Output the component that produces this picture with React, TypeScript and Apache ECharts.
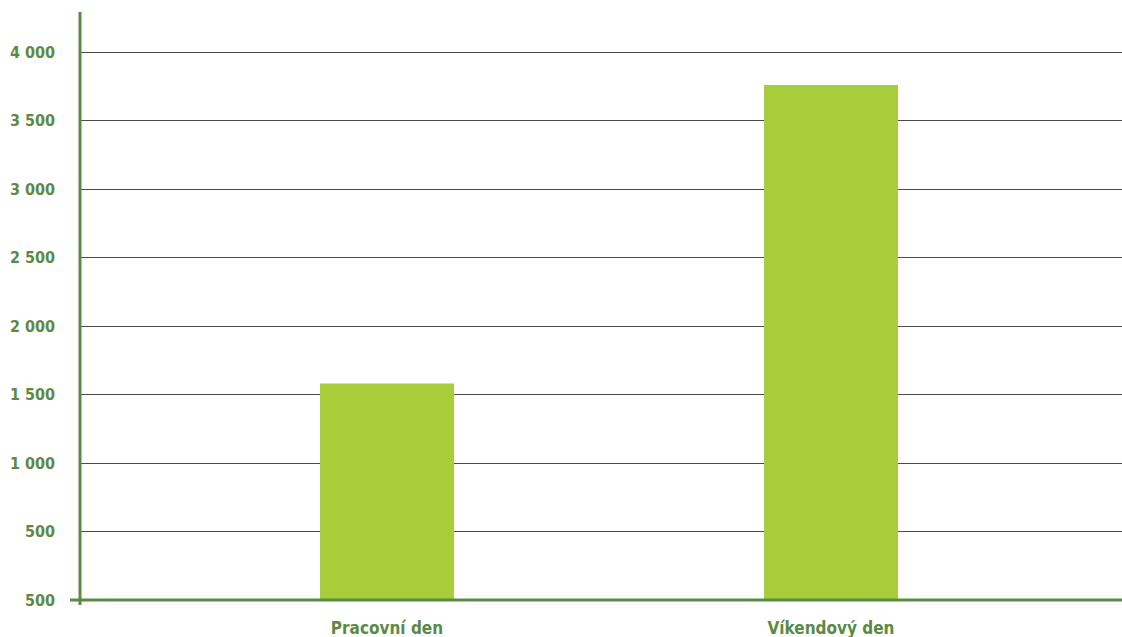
import React, { useEffect, useRef } from "react";
import * as echarts from "echarts";

const categories = ["Pracovní den", "Víkendový den"];
const values = [1580, 3760];
const yMin = 0;
const yMax = 4000;
const yInterval = 500;

const GREEN = "#5b8a45";
const BAR = "#a8cd3a";
const FONT = "'DejaVu Sans Condensed', 'DejaVu Sans', sans-serif";

function fmt(v: number): string {
  if (v === 0) return "500";
  const s = String(v);
  return s.length > 3 ? s.slice(0, s.length - 3) + " " + s.slice(-3) : s;
}

export default function App() {
  const ref = useRef<HTMLDivElement>(null);
  useEffect(() => {
    if (!ref.current) return;
    const chart = echarts.init(ref.current, null, { renderer: "svg" });
    chart.setOption({
      animation: false,
      backgroundColor: "#ffffff",
      grid: [
        { left: 80, right: 0, top: 52, bottom: 37 },
        { left: 165, right: 69, top: 52, bottom: 37 },
      ],
      xAxis: [
        {
          type: "value",
          gridIndex: 0,
          show: true,
          axisLine: { show: false },
          axisTick: { show: false },
          axisLabel: { show: false },
          splitLine: { show: false },
        },
        {
          type: "category",
          gridIndex: 1,
          data: categories,
          axisLine: { show: false },
          axisTick: { show: false },
          axisLabel: {
            color: GREEN,
            fontFamily: FONT,
            fontWeight: "bold",
            fontSize: 17,
            margin: 19,
          },
        },
      ],
      yAxis: [
        {
          type: "value",
          gridIndex: 0,
          min: yMin,
          max: yMax,
          interval: yInterval,
          axisLine: { show: false },
          axisTick: { show: false },
          axisLabel: {
            color: GREEN,
            fontFamily: FONT,
            fontWeight: "bold",
            fontSize: 16,
            margin: 25,
            formatter: (v: number) => fmt(v),
          },
          splitLine: { show: true, lineStyle: { color: "#4a4a4a", width: 1 } },
        },
        {
          type: "value",
          gridIndex: 1,
          min: yMin,
          max: yMax,
          interval: yInterval,
          show: false,
          splitLine: { show: false },
        },
      ],
      series: [
        {
          type: "bar",
          xAxisIndex: 1,
          yAxisIndex: 1,
          data: values,
          barWidth: 134,
          itemStyle: { color: BAR },
        },
      ],
      graphic: [
        {
          type: "line",
          shape: { x1: 80, y1: 12, x2: 80, y2: 605 },
          style: { stroke: GREEN, lineWidth: 3 },
          z: 100,
        },
        {
          type: "line",
          shape: { x1: 70, y1: 600, x2: 1122, y2: 600 },
          style: { stroke: GREEN, lineWidth: 3 },
          z: 100,
        },
      ],
    });
    return () => chart.dispose();
  }, []);
  return (
    <div
      ref={ref}
      style={{ position: "fixed", left: 0, top: 0, width: 1122, height: 637 }}
    />
  );
}
